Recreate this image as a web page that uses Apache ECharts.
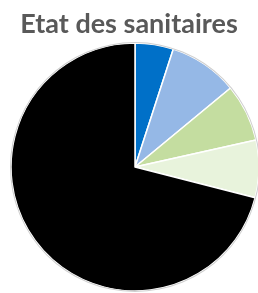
<!DOCTYPE html>
<html><head><meta charset="utf-8">
<script src="https://cdn.jsdelivr.net/npm/echarts@6/dist/echarts.min.js"></script>
<style>html,body{margin:0;padding:0;background:#fff}#c{width:258px;height:293px}</style>
</head><body><div id="c"></div>
<script>
const categories = ["Très bon", "Bon", "Moyen", "Mauvais", "Non renseigné"];
const values = [5, 9, 7.5, 7.5, 71];
const colors = ["#0070C8", "#95B8E6", "#C4DDA0", "#E8F3DC", "#000000"];
const chart = echarts.init(document.getElementById('c'), null, {renderer: 'canvas'});
chart.setOption({
  animation: false,
  title: {
    text: "Etat des sanitaires",
    left: 'center', top: 6,
    textStyle: {fontFamily: 'Lato', fontWeight: 'bold', fontSize: 27, color: '#595959'}
  },
  series: [{
    type: 'pie',
    center: [135, 167],
    radius: [0, 124],
    startAngle: 90,
    clockwise: true,
    label: {show: false},
    labelLine: {show: false},
    itemStyle: {borderColor: '#ffffff', borderWidth: 1.5},
    data: categories.map((n, i) => ({name: n, value: values[i], itemStyle: {color: colors[i]}}))
  }, {
    type: 'pie',
    center: [135, 167],
    radius: [124, 125],
    silent: true,
    label: {show: false},
    labelLine: {show: false},
    itemStyle: {color: '#cfcfcf'},
    data: [{value: 1, name: 'outline'}]
  }]
});
</script></body></html>
